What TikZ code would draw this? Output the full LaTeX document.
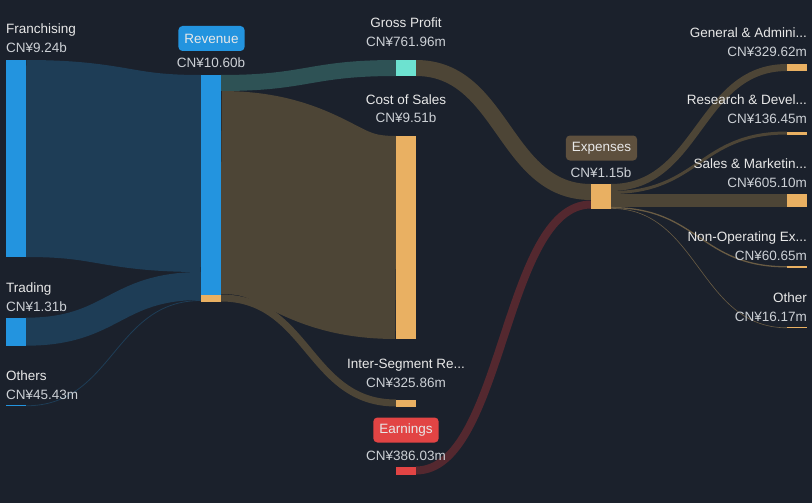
\documentclass[tikz,border=0pt]{standalone}
\usepackage{fontspec}
\setmainfont{Liberation Sans}
\definecolor{bg}{HTML}{1B212C}
\definecolor{nblue}{HTML}{2394DF}
\definecolor{fblue}{HTML}{1E3D56}
\definecolor{nteal}{HTML}{6DE2D0}
\definecolor{fteal}{HTML}{2E5255}
\definecolor{norange}{HTML}{E9B062}
\definecolor{fbrown}{HTML}{4D4536}
\definecolor{fbrownthin}{HTML}{6A5C44}
\definecolor{boxbrown}{HTML}{5E503E}
\definecolor{nred}{HTML}{E24444}
\definecolor{fred}{HTML}{54282F}
\definecolor{tname}{HTML}{E8E8E8}
\definecolor{tval}{HTML}{CDD1D6}
\newcommand{\sflow}[6]{%
  \draw[line cap=butt, line width=#5pt, draw=#6]
    (#1,#2) .. controls ({(#1+#3)/2},#2) and ({(#1+#3)/2},#4) .. (#3,#4);}
\begin{document}
\begin{tikzpicture}[x=1pt,y=-1pt,
  bar/.style={rectangle, inner sep=0pt, outer sep=0pt, anchor=north west, minimum width=20pt},
  nm/.style={inner sep=0pt, text=tname, font=\fontsize{13.5}{16}\selectfont},
  vl/.style={inner sep=0pt, text=tval, font=\fontsize{13.5}{16}\selectfont},
  tag/.style={rectangle, rounded corners=4pt, text=tname, font=\fontsize{13.5}{16}\selectfont, minimum height=25pt, inner xsep=6pt, inner ysep=0pt}]
\fill[bg] (0,0) rectangle (812,503);
\useasboundingbox (0,0) rectangle (812,503);

% ---- flows ----
\sflow{26}{158.5}{201}{173.5}{197}{fblue}
\sflow{26}{331.7}{201}{286}{28}{fblue}
\sflow{26}{405.8}{201}{300.5}{0.8}{fblue}
\sflow{221}{83}{396}{68}{16}{fteal}
\sflow{221}{192.5}{396}{237.5}{203}{fbrown}
\sflow{221}{298}{396}{403}{7}{fbrown}
\sflow{416}{68}{591}{192}{16}{fbrown}
\sflow{416}{470.5}{591}{204.5}{8}{fred}
\sflow{611}{187.5}{787}{67.5}{7}{fbrown}
\sflow{611}{192.5}{787}{133}{3}{fbrown}
\sflow{611}{200.5}{787}{200.5}{13}{fbrown}
\sflow{611}{207.6}{787}{266.8}{1.3}{fbrownthin}
\sflow{611}{208.4}{787}{327.8}{0.6}{fbrownthin}

% ---- bars ----
\node[bar, fill=nblue, minimum height=197pt] (fr) at (6,60) {};
\node[bar, fill=nblue, minimum height=28pt] (tr) at (6,317.7) {};
\node[bar, fill=nblue, minimum height=1pt] (ot) at (6,405.3) {};
\node[bar, fill=nblue, minimum height=219.5pt] (rev) at (201,75) {};
\node[bar, fill=norange, minimum height=7pt] (revis) at (201,294.5) {};
\node[bar, fill=nteal, minimum height=16pt] (gp) at (396,60) {};
\node[bar, fill=norange, minimum height=203pt] (cos) at (396,136) {};
\node[bar, fill=norange, minimum height=7pt] (is) at (396,399.5) {};
\node[bar, fill=nred, minimum height=8pt] (earn) at (396,466.5) {};
\node[bar, fill=norange, minimum height=25pt] (exp) at (591,184) {};
\node[bar, fill=norange, minimum height=7pt] (ga) at (787,64) {};
\node[bar, fill=norange, minimum height=3pt] (rd) at (787,131.5) {};
\node[bar, fill=norange, minimum height=13pt] (sm) at (787,194) {};
\node[bar, fill=norange, minimum height=1.3pt] (no) at (787,266.2) {};
\node[bar, fill=norange, minimum height=0.8pt] (oth) at (787,327.4) {};

% ---- left labels ----
\node[nm, anchor=base west] (lfr) at (6,34) {Franchising};
\node[vl, anchor=base west] (vfr) at (6,53) {CN¥9.24b};
\node[nm, anchor=base west] (ltr) at (6,292.5) {Trading};
\node[vl, anchor=base west] (vtr) at (6,311) {CN¥1.31b};
\node[nm, anchor=base west] (lot) at (6,380) {Others};
\node[vl, anchor=base west] (vot) at (6,399) {CN¥45.43m};

% ---- middle labels ----
\node[tag, fill=nblue] (lrev) at (211.5,38.5) {Revenue};
\node[vl, anchor=base] (vrev) at (211,68) {CN¥10.60b};
\node[nm, anchor=base] (lgp) at (406,28) {Gross Profit};
\node[vl, anchor=base] (vgp) at (406,47) {CN¥761.96m};
\node[nm, anchor=base] (lcos) at (406,104) {Cost of Sales};
\node[vl, anchor=base] (vcos) at (406,123) {CN¥9.51b};
\node[nm, anchor=base] (lis) at (406,368) {Inter-Segment Re...};
\node[vl, anchor=base] (vis) at (406,387) {CN¥325.86m};
\node[tag, fill=nred] (learn) at (406,430) {Earnings};
\node[vl, anchor=base] (vearn) at (406,460) {CN¥386.03m};
\node[tag, fill=boxbrown] (lexp) at (601.5,148) {Expenses};
\node[vl, anchor=base] (vexp) at (601,177) {CN¥1.15b};

% ---- right labels ----
\node[nm, anchor=base east] (lga) at (807,38) {General \& Admini...};
\node[vl, anchor=base east] (vga) at (807,57) {CN¥329.62m};
\node[nm, anchor=base east] (lrd) at (807,105) {Research \& Devel...};
\node[vl, anchor=base east] (vrd) at (807,124) {CN¥136.45m};
\node[nm, anchor=base east] (lsm) at (807,168) {Sales \& Marketin...};
\node[vl, anchor=base east] (vsm) at (807,187) {CN¥605.10m};
\node[nm, anchor=base east] (lno) at (807,241) {Non-Operating Ex...};
\node[vl, anchor=base east] (vno) at (807,260) {CN¥60.65m};
\node[nm, anchor=base east] (loth) at (807,302) {Other};
\node[vl, anchor=base east] (voth) at (807,321) {CN¥16.17m};
\end{tikzpicture}
\end{document}
